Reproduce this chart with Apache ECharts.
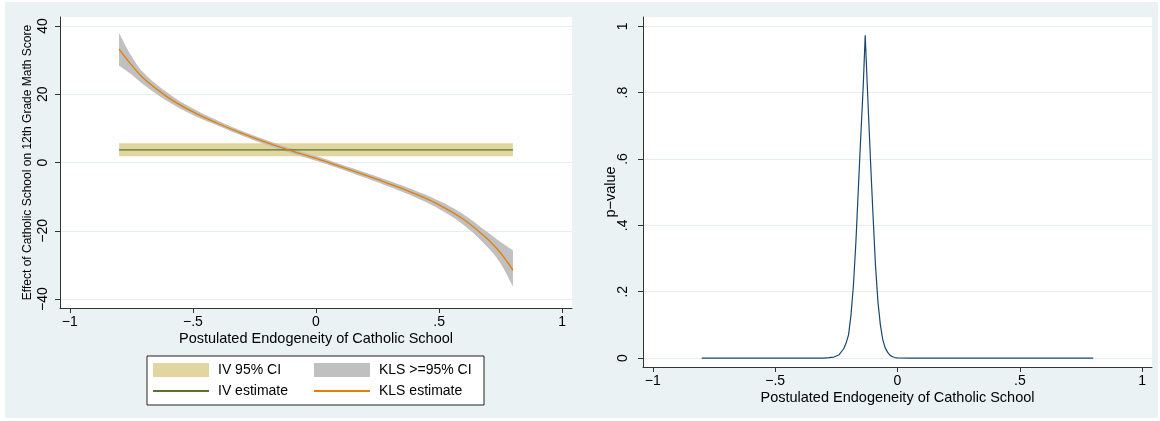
<!DOCTYPE html>
<html>
<head>
<meta charset="utf-8">
<script src="https://cdn.jsdelivr.net/npm/echarts@6/dist/echarts.min.js"></script>
<style>
html,body{margin:0;padding:0;background:#fff;}
#c{width:1160px;height:421px;}
</style>
</head>
<body>
<div id="c"></div>
<script>
// ---- data ----
const klsX    = [-0.8, -0.75, -0.7, -0.6, -0.5, -0.4, -0.3, -0.2, -0.1, 0, 0.1, 0.2, 0.3, 0.4, 0.5, 0.6, 0.7, 0.75, 0.8];
const klsEst  = [33.2, 28.6, 24.6, 19.0, 14.8, 11.5, 8.5, 5.8, 3.4, 1.2, -1.2, -3.7, -6.3, -9.1, -12.4, -16.7, -22.6, -26.5, -31.5];
const klsLow  = [28.3, 25.8, 22.8, 17.8, 13.9, 10.8, 7.8, 5.1, 2.7, 0.5, -1.9, -4.5, -7.2, -10.1, -13.6, -18.3, -25.0, -29.6, -36.4];
const klsHigh = [38.0, 31.2, 26.3, 20.3, 15.8, 12.3, 9.2, 6.5, 4.1, 1.9, -0.5, -2.9, -5.4, -8.1, -11.2, -15.2, -20.6, -23.3, -25.7];

const ivX    = [-0.8, 0.8];
const ivEst  = [3.7, 3.7];
const ivLow  = [1.8, 1.8];
const ivHigh = [5.6, 5.6];

const pX   = [-0.8, -0.7, -0.6, -0.5, -0.4, -0.3, -0.28, -0.26, -0.24, -0.22, -0.21, -0.2, -0.19, -0.18, -0.17, -0.16, -0.15, -0.14, -0.132, -0.12, -0.11, -0.1, -0.09, -0.08, -0.07, -0.06, -0.05, -0.04, -0.03, -0.02, -0.01, 0, 0.05, 0.1, 0.2, 0.3, 0.4, 0.5, 0.6, 0.7, 0.8];
const pVal = [0, 0, 0, 0, 0, 0, 0.001, 0.003, 0.009, 0.028, 0.045, 0.07, 0.13, 0.22, 0.35, 0.51, 0.67, 0.82, 0.973, 0.76, 0.59, 0.43, 0.28, 0.17, 0.10, 0.055, 0.03, 0.017, 0.008, 0.004, 0.0015, 0.0005, 0, 0, 0, 0, 0, 0, 0, 0, 0];

const xTickValues = [-1, -0.5, 0, 0.5, 1];
const xTickLabels = ['\u22121', '\u2212.5', '0', '.5', '1'];
const yLTickValues = [-40, -20, 0, 20, 40];
const yLTickLabels = ['\u221240', '\u221220', '0', '20', '40'];
const yRTickValues = [0, 0.2, 0.4, 0.6, 0.8, 1];
const yRTickLabels = ['0', '.2', '.4', '.6', '.8', '1'];

const xTitle = 'Postulated Endogeneity of Catholic School';
const yLTitle = 'Effect of Catholic School on 12th Grade Math Score';
const yRTitle = 'p\u2212value';

// ---- helpers ----
const pairs = (xs, ys) => xs.map((x, i) => [x, ys[i]]);
// band rows: [value, x] so the stacked dimension is the value (y) dimension
const bandRows = (xs, ys) => xs.map((x, i) => [ys[i], x]);
const diff = (a, b) => a.map((v, i) => +(v - b[i]).toFixed(4));
const lookup = (vals, labs) => (v) => {
  const i = vals.findIndex(t => Math.abs(t - v) < 1e-9);
  return i >= 0 ? labs[i] : '';
};

const FONT = '"Liberation Sans", Arial, Helvetica, sans-serif';
const AX = '#333';
const GRID = '#e6eef0';
const C_IVBAND = '#e2d6a0';
const C_KLSBAND = '#c0c0c0';
const C_IV = '#55752f';
const C_KLS = '#e37e00';
const C_P = '#1a476f';

function xAxisCfg(gi) {
  return {
    type: 'value', gridIndex: gi, min: -1.04, max: 1.04,
    name: xTitle, nameLocation: 'middle', nameGap: 23, nameMoveOverlap: false,
    nameTextStyle: { fontFamily: FONT, fontSize: 14.5, color: '#000' },
    axisLine: { show: true, onZero: false, lineStyle: { color: AX, width: 1 } },
    axisTick: { show: true, length: 5, customValues: xTickValues, lineStyle: { color: AX } },
    axisLabel: { customValues: xTickValues, formatter: lookup(xTickValues, xTickLabels), margin: 7,
      fontFamily: FONT, fontSize: 14, color: '#000' },
    splitLine: { show: false }
  };
}
function yAxisCfg(gi, min, max, vals, labs, name, nameSize, nameGap, labMargin) {
  return {
    type: 'value', gridIndex: gi, min: min, max: max,
    name: name, nameLocation: 'middle', nameGap: nameGap, nameMoveOverlap: false,
    nameTextStyle: { fontFamily: FONT, fontSize: nameSize, color: '#000' },
    axisLine: { show: true, onZero: false, lineStyle: { color: AX, width: 1 } },
    axisTick: { show: true, length: 5, customValues: vals, lineStyle: { color: AX } },
    axisLabel: { customValues: vals, formatter: lookup(vals, labs), rotate: 90, margin: labMargin,
      fontFamily: FONT, fontSize: 14, color: '#000' },
    splitLine: { show: true, lineStyle: { color: GRID, width: 1 } }
  };
}

function bandSeries(name, stack, xs, low, high, color, smooth, z) {
  return [
    { name: stack + 'Base', type: 'line', xAxisIndex: 0, yAxisIndex: 0, stack: stack, stackStrategy: 'all',
      encode: { x: 1, y: 0 }, data: bandRows(xs, low), smooth: smooth,
      symbol: 'none', silent: true, lineStyle: { width: 0, opacity: 0 }, z: z },
    { name: name, type: 'line', xAxisIndex: 0, yAxisIndex: 0, stack: stack, stackStrategy: 'all',
      encode: { x: 1, y: 0 }, data: bandRows(xs, diff(high, low)), smooth: smooth,
      symbol: 'none', silent: true, color: color, lineStyle: { width: 0, opacity: 0 },
      areaStyle: { color: color, opacity: 1 }, z: z }
  ];
}

const lineLegendItem = (name) => ({ name: name, itemStyle: { opacity: 0, borderWidth: 0 } });

const option = {
  animation: false,
  backgroundColor: '#ffffff',
  graphic: [
    { type: 'rect', z: -10, silent: true, shape: { x: 5, y: 2, width: 1153, height: 416 }, style: { fill: '#eaf2f3' } },
    { type: 'rect', z: 1, silent: true, shape: { x: 147, y: 356, width: 337, height: 49 }, style: { fill: '#ffffff', stroke: '#222', lineWidth: 1 } }
  ],
  grid: [
    { left: 60, top: 17, width: 512, height: 291, show: true, backgroundColor: '#ffffff', borderWidth: 0, containLabel: false },
    { left: 643, top: 17, width: 509, height: 350, show: true, backgroundColor: '#ffffff', borderWidth: 0, containLabel: false }
  ],
  xAxis: [xAxisCfg(0), xAxisCfg(1)],
  yAxis: [
    yAxisCfg(0, -42.6, 42.6, yLTickValues, yLTickLabels, yLTitle, 12, 26, 10),
    yAxisCfg(1, -0.027, 1.028, yRTickValues, yRTickLabels, yRTitle, 14.5, 25, 13)
  ],
  legend: [
    { orient: 'vertical', left: 152, top: 363, padding: 0, itemWidth: 56, itemHeight: 14, itemGap: 7, z: 5,
      selectedMode: false,
      textStyle: { fontFamily: FONT, fontSize: 14, color: '#000', padding: [0, 0, 0, 4] },
      data: [ { name: 'IV 95% CI', icon: 'rect', itemStyle: { color: C_IVBAND } }, lineLegendItem('IV estimate') ] },
    { orient: 'vertical', left: 313, top: 363, padding: 0, itemWidth: 56, itemHeight: 14, itemGap: 7, z: 5,
      selectedMode: false,
      textStyle: { fontFamily: FONT, fontSize: 14, color: '#000', padding: [0, 0, 0, 4] },
      data: [ { name: 'KLS >=95% CI', icon: 'rect', itemStyle: { color: C_KLSBAND } }, lineLegendItem('KLS estimate') ] }
  ],
  series: [
    ...bandSeries('IV 95% CI', 'iv', ivX, ivLow, ivHigh, C_IVBAND, false, 2),
    ...bandSeries('KLS >=95% CI', 'kls', klsX, klsLow, klsHigh, C_KLSBAND, 0.4, 3),
    { name: 'IV estimate', type: 'line', xAxisIndex: 0, yAxisIndex: 0, data: pairs(ivX, ivEst),
      symbol: 'none', silent: true, color: C_IV, lineStyle: { color: C_IV, width: 1.3 }, z: 4 },
    { name: 'KLS estimate', type: 'line', xAxisIndex: 0, yAxisIndex: 0, data: pairs(klsX, klsEst),
      smooth: 0.4, symbol: 'none', silent: true, color: C_KLS, lineStyle: { color: C_KLS, width: 1.3 }, z: 5 },
    { name: 'p-value', type: 'line', xAxisIndex: 1, yAxisIndex: 1, data: pairs(pX, pVal),
      symbol: 'none', silent: true, color: C_P, lineStyle: { color: C_P, width: 1.2 }, z: 4 }
  ]
};

const chart = echarts.init(document.getElementById('c'), null, { renderer: 'canvas' });
chart.setOption(option);
</script>
</body>
</html>
